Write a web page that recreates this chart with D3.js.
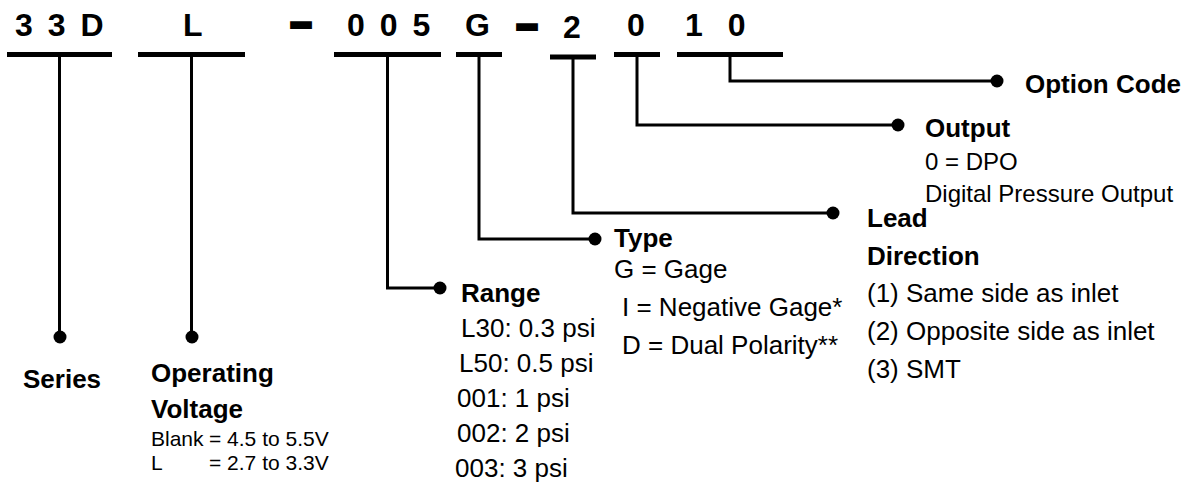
<!DOCTYPE html>
<html>
<head>
<meta charset="utf-8">
<script src="https://cdn.jsdelivr.net/npm/d3@7"></script>
<style>
  body { margin: 0; background: #fff; }
  svg { display: block; font-family: Arial, "Liberation Sans", sans-serif; }
  .code { font-weight: bold; font-size: 32px; letter-spacing: 3px; }
  .title { font-weight: bold; font-size: 26px; }
  .item { font-size: 26px; }
  .out { font-size: 24px; }
  .small { font-size: 21px; }
</style>
</head>
<body>
<svg id="chart"></svg>
<script>
// part number segments, left to right
var segments = ["series", "voltage", "range", "type", "lead", "output", "option"];
var codes = ["3 3 D", "L", "0 0 5", "G", "2", "0", "1 0"];
var titles = [["Series"], ["Operating", "Voltage"], ["Range"], ["Type"], ["Lead", "Direction"], ["Output"], ["Option Code"]];

var voltageItems = [["Blank", "= 4.5 to 5.5V"], ["L", "= 2.7 to 3.3V"]];
var rangeItems = ["L30: 0.3 psi", "L50: 0.5 psi", "001: 1 psi", "002: 2 psi", "003: 3 psi"];
var typeItems = ["G = Gage", "I = Negative Gage*", "D = Dual Polarity**"];
var leadItems = ["(1) Same side as inlet", "(2) Opposite side as inlet", "(3) SMT"];
var outputItems = ["0 = DPO", "Digital Pressure Output"];

var width = 1196, height = 485;
var svg = d3.select("#chart").attr("width", width).attr("height", height);

// layout scales
var barStart = d3.scaleOrdinal().domain(segments).range([7, 138, 334, 456, 550, 614, 677]);
var barEnd = d3.scaleOrdinal().domain(segments).range([112, 245, 441, 502, 596, 660, 783]);
var barY = d3.scaleOrdinal().domain(segments).range([54.5, 54.5, 54.5, 54.5, 57, 54.5, 54.5]);
var codeX = d3.scaleOrdinal().domain(segments).range([15, 183, 347, 465, 563, 627, 685]);
var codeY = d3.scaleOrdinal().domain(segments).range([36, 36, 36, 36, 38, 36, 36]);
var codeSpacing = d3.scaleOrdinal().domain(segments).range([3, 3, 3, 3, 3, 3, 8]);
var elbowY = d3.scaleOrdinal().domain(segments).range([337, 337, 288, 239, 213, 125, 81]);
var dotX = d3.scaleOrdinal().domain(segments).range([60, 192, 440, 595, 833, 898, 997]);
var labelX = d3.scaleOrdinal().domain(segments).range([23, 151, 461, 614, 867, 925, 1025]);
var labelY = d3.scaleOrdinal().domain(segments).range([388, 382, 302, 247, 227, 137, 93]);
var lineGap = d3.scaleOrdinal().domain(segments).range([36, 36, 35, 38, 37.5, 33, 33]);

function mid(k) { return (barStart(k) + barEnd(k)) / 2; }

var g = svg.append("g");

// code characters
g.selectAll("text.code").data(segments).enter().append("text")
  .attr("class", "code")
  .attr("x", function(d) { return codeX(d); })
  .attr("y", function(d) { return codeY(d); })
  .style("letter-spacing", function(d) { return codeSpacing(d) + "px"; })
  .text(function(d, i) { return codes[i]; });

// dashes between groups
g.selectAll("text.dash").data([[301, 35], [527, 37]]).enter().append("text")
  .attr("class", "dash")
  .attr("x", function(d) { return d[0]; })
  .attr("y", function(d) { return d[1]; })
  .attr("text-anchor", "middle")
  .attr("font-weight", "bold").attr("font-size", 36)
  .attr("stroke", "#000").attr("stroke-width", 4)
  .text("–");

// underlines
g.selectAll("line.bar").data(segments).enter().append("line")
  .attr("x1", function(d) { return barStart(d); })
  .attr("x2", function(d) { return barEnd(d); })
  .attr("y1", function(d) { return barY(d); })
  .attr("y2", function(d) { return barY(d); })
  .attr("stroke", "#000").attr("stroke-width", 5);

// connectors
var path = d3.line();
g.selectAll("path.conn").data(segments).enter().append("path")
  .attr("d", function(d) {
    return path([[mid(d), barY(d)], [mid(d), elbowY(d)], [dotX(d), elbowY(d)]]);
  })
  .attr("fill", "none").attr("stroke", "#000").attr("stroke-width", 3);

g.selectAll("circle.dot").data(segments).enter().append("circle")
  .attr("cx", function(d) { return dotX(d); })
  .attr("cy", function(d) { return elbowY(d); })
  .attr("r", 6.5).attr("fill", "#000");

// titles
segments.forEach(function(k, i) {
  titles[i].forEach(function(t, j) {
    g.append("text").attr("class", "title")
      .attr("x", labelX(k))
      .attr("y", labelY(k) + j * lineGap(k))
      .text(t);
  });
});

// descriptions
function listBlock(items, x0, y0, gap, cls, xs) {
  items.forEach(function(t, i) {
    g.append("text").attr("class", cls)
      .attr("x", xs ? xs[i] : x0)
      .attr("y", y0 + i * gap)
      .text(t);
  });
}

voltageItems.forEach(function(v, i) {
  var t = g.append("text").attr("class", "small").attr("y", 446 + i * 24);
  t.append("tspan").attr("x", 151).text(v[0]);
  t.append("tspan").attr("x", 209).text(v[1]);
});

listBlock(rangeItems, 461, 337, 35, "item", [461, 459, 457, 457, 455]);
listBlock(typeItems, 614, 278, 38, "item", [614, 622, 622]);
listBlock(leadItems, 867, 302, 38, "item");
listBlock(outputItems, 925, 170, 31.5, "out");
</script>
</body>
</html>
